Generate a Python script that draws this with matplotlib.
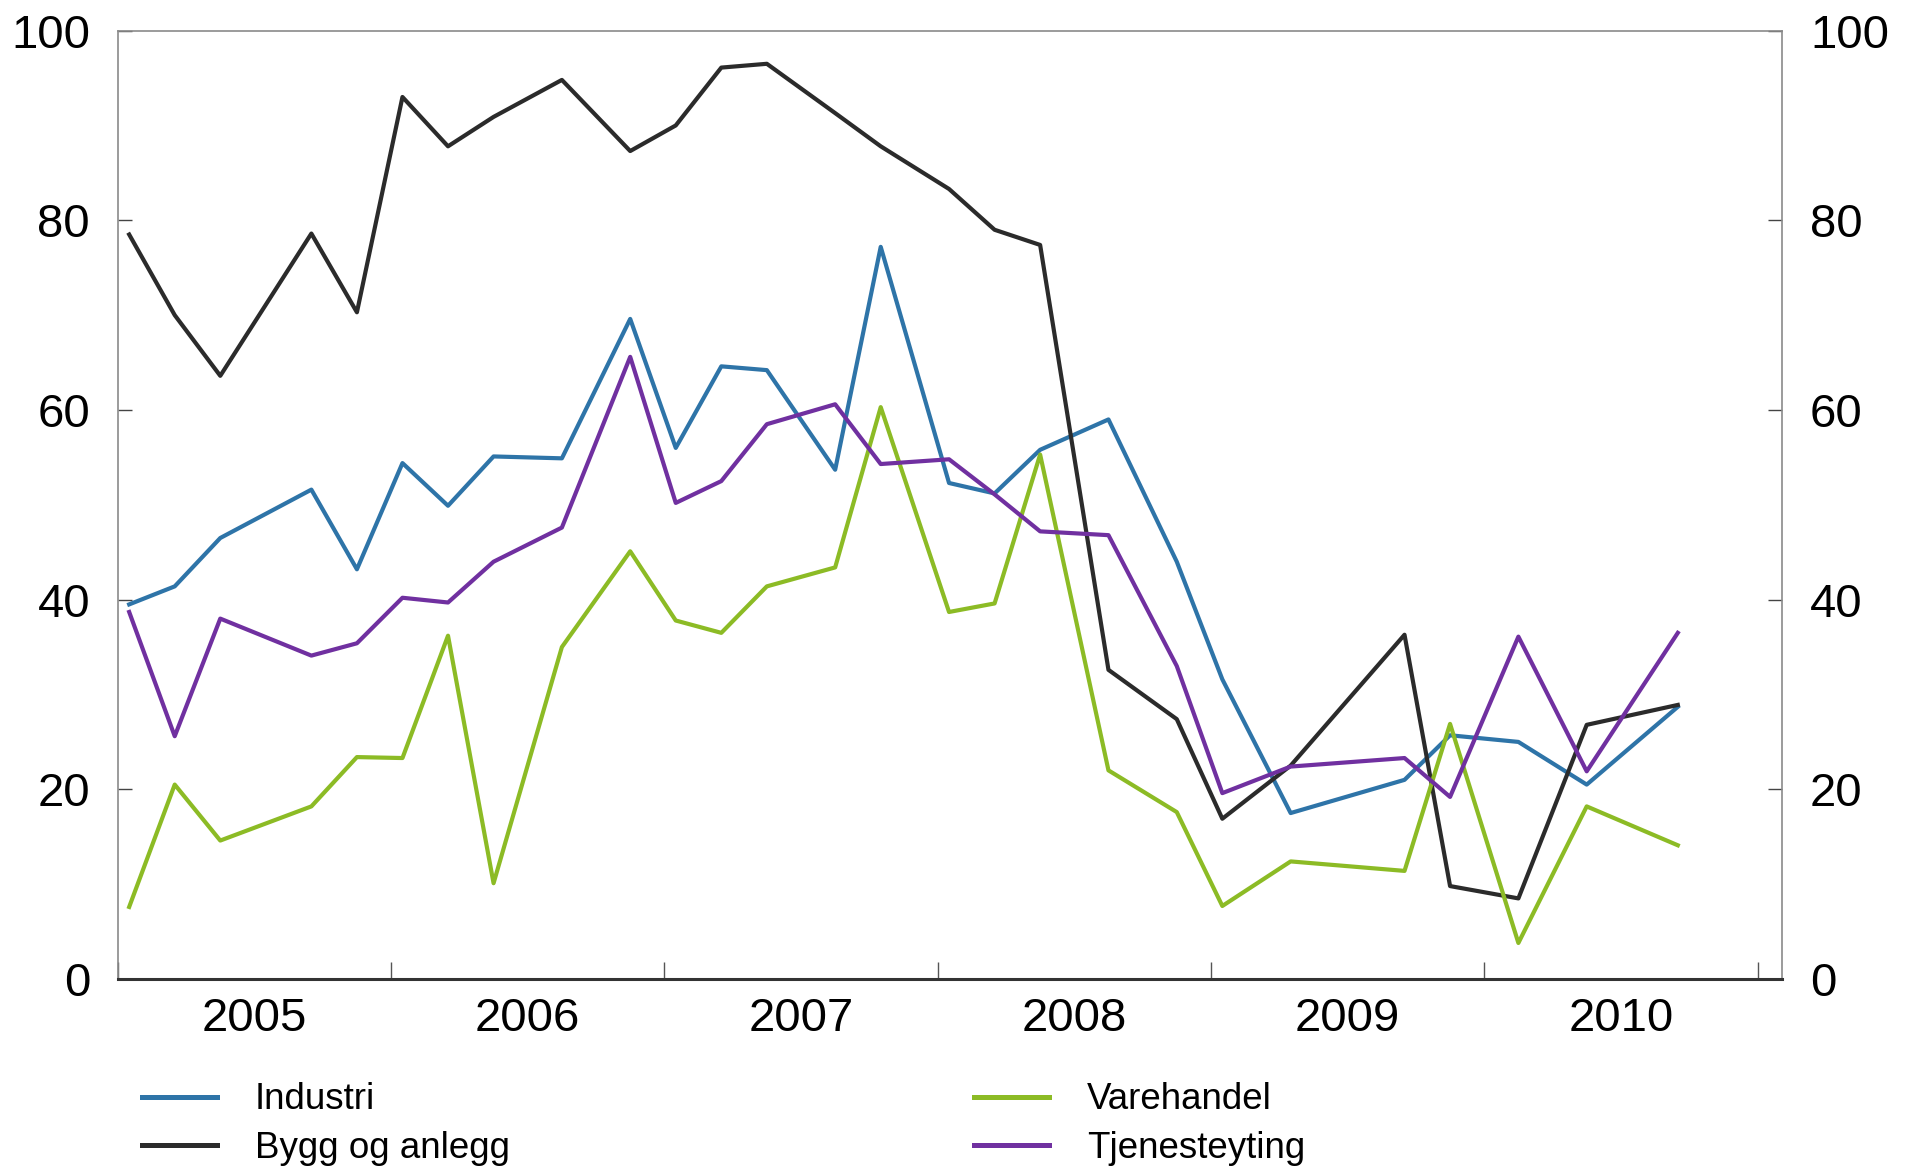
import matplotlib
matplotlib.use("Agg")
import matplotlib.pyplot as plt
from matplotlib.ticker import FixedLocator, NullFormatter, FixedFormatter

# survey months (bimonthly-ish, some gaps)
dates = ['2005-01', '2005-03', '2005-05', '2005-09', '2005-11',
         '2006-01', '2006-03', '2006-05', '2006-08', '2006-11',
         '2007-01', '2007-03', '2007-05', '2007-08', '2007-10',
         '2008-01', '2008-03', '2008-05', '2008-08', '2008-11',
         '2009-01', '2009-04', '2009-09', '2009-11',
         '2010-02', '2010-05', '2010-09']

industri = [39.5, 41.4, 46.5, 51.6, 43.2, 54.4, 49.9, 55.1, 54.9, 69.6,
            56.0, 64.6, 64.2, 53.7, 77.2, 52.3, 51.2, 55.8, 59.0, 44.0,
            31.6, 17.5, 21.0, 25.7, 25.0, 20.5, 28.7]
bygg = [78.5, 70.0, 63.6, 78.6, 70.3, 93.0, 87.8, 90.9, 94.8, 87.3,
        90.0, 96.1, 96.5, 91.3, 87.8, 83.3, 79.0, 77.4, 32.6, 27.4,
        16.9, 22.5, 36.3, 9.8, 8.5, 26.8, 28.9]
varehandel = [7.6, 20.5, 14.6, 18.2, 23.4, 23.3, 36.2, 10.1, 35.0, 45.1,
              37.8, 36.5, 41.4, 43.4, 60.3, 38.7, 39.6, 55.3, 22.0, 17.6,
              7.7, 12.4, 11.4, 26.9, 3.8, 18.2, 14.1]
tjeneste = [38.7, 25.6, 38.0, 34.1, 35.4, 40.2, 39.7, 44.0, 47.6, 65.6,
            50.2, 52.5, 58.5, 60.6, 54.3, 54.8, 51.1, 47.2, 46.8, 33.0,
            19.6, 22.4, 23.3, 19.2, 36.1, 21.9, 36.5]

years = [2005, 2006, 2007, 2008, 2009, 2010]
yticks = [0, 20, 40, 60, 80, 100]

# mid-month position in decimal years
x = [int(d[:4]) + (int(d[5:]) - 0.5) / 12 for d in dates]

plt.rcParams['font.family'] = ['Liberation Sans', 'DejaVu Sans']

fig = plt.figure(figsize=(19.06, 11.68), dpi=100)
ax = fig.add_axes([0.0618, 0.1618, 0.8732, 0.812])

lw = 3.0
l1, = ax.plot(x, industri, color='#2E74A8', lw=lw, label='Industri')
l2, = ax.plot(x, bygg, color='#2B2B2B', lw=lw, label='Bygg og anlegg')
l3, = ax.plot(x, varehandel, color='#8CBB25', lw=lw, label='Varehandel')
l4, = ax.plot(x, tjeneste, color='#7030A0', lw=lw, label='Tjenesteyting')

ax.set_xlim(2005.0, 2011.09)
ax.set_ylim(0, 100)

# year boundaries as ticks, year labels centred between them
ax.xaxis.set_major_locator(FixedLocator(years + [2011]))
ax.xaxis.set_major_formatter(NullFormatter())
ax.xaxis.set_minor_locator(FixedLocator([y + 0.5 for y in years]))
ax.xaxis.set_minor_formatter(FixedFormatter([str(y) for y in years]))
ax.tick_params(axis='x', which='major', direction='in', length=12,
               width=1.0, color='#555555')
ax.tick_params(axis='x', which='minor', length=0, pad=13, labelsize=34)

ax.set_yticks(yticks)
ax.tick_params(axis='y', direction='in', length=10, width=1.0,
               color='#444444', labelsize=34, pad=20,
               left=True, right=True, labelleft=True, labelright=True)

for side in ['top', 'left', 'right']:
    ax.spines[side].set_color('#8a8a8a')
    ax.spines[side].set_linewidth(1.2)
ax.spines['bottom'].set_color('#333333')
ax.spines['bottom'].set_linewidth(2.2)

leg_kw = dict(frameon=False, fontsize=26.5, handlelength=2.04,
              handletextpad=1.04, labelspacing=0.37, borderpad=0,
              borderaxespad=0, loc='center left')
fig.legend(handles=[l1, l2], bbox_to_anchor=(0.0743, 0.0375), **leg_kw)
fig.legend(handles=[l3, l4], bbox_to_anchor=(0.511, 0.0375), **leg_kw)
for leg in fig.legends:
    for h in leg.legend_handles:
        h.set_linewidth(3.6)

fig.savefig('out.png', dpi=100)
